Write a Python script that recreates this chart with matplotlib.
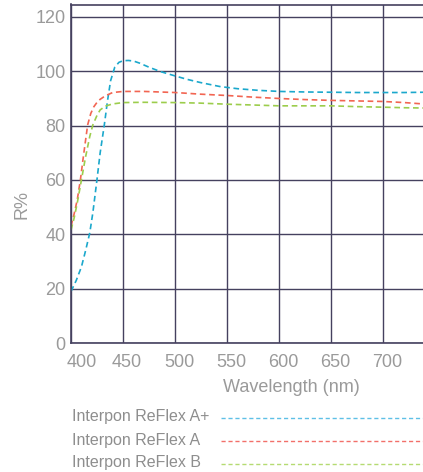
import matplotlib
matplotlib.use("Agg")
import matplotlib.pyplot as plt
import matplotlib.transforms as mtransforms
from matplotlib.lines import Line2D

plt.rcParams['font.family'] = ['Liberation Sans', 'DejaVu Sans']

# values
wl_aplus = [400, 405, 410, 414, 418, 421, 425, 428, 432, 435, 438, 442, 446, 450, 455, 460,
            466, 475, 486, 500, 512, 524, 543, 560, 580, 600, 625, 650, 675, 700, 720, 738]
r_aplus = [19.0, 23.0, 28.0, 34.0, 40.5, 48.0, 60.3, 70.0, 80.3, 89.0, 96.5, 101.5, 103.3, 103.9,
           104.0, 103.8, 103.0, 101.5, 99.9, 98.3, 97.0, 95.9, 94.4, 93.6, 93.0, 92.6, 92.4,
           92.3, 92.2, 92.2, 92.2, 92.3]

wl_a = [400, 403, 406, 409, 412, 416, 419, 422, 425, 428, 433, 440, 450, 470, 500, 524,
        550, 575, 600, 625, 650, 675, 700, 720, 738]
r_a = [43.0, 47.5, 52.7, 60.0, 69.0, 80.3, 84.5, 87.0, 88.6, 89.7, 91.0, 92.2, 92.6, 92.6,
       92.2, 91.6, 91.1, 90.5, 90.0, 89.6, 89.3, 89.1, 88.9, 88.5, 88.0]

wl_b = [400, 403, 406, 410, 414, 418, 421, 425, 428, 433, 440, 450, 470, 500, 524,
        550, 575, 600, 625, 650, 675, 700, 720, 738]
r_b = [41.6, 46.0, 51.5, 60.0, 68.5, 76.0, 80.3, 83.8, 85.8, 87.2, 88.0, 88.5, 88.6, 88.5,
       88.3, 87.9, 87.6, 87.3, 87.3, 87.3, 87.0, 86.8, 86.6, 86.5]

labels = ['Interpon ReFlex A+', 'Interpon ReFlex A', 'Interpon ReFlex B']
colors = ['#1ba8cc', '#f26552', '#9ccd4c']
legend_colors = ['#5ec0e6', '#f2706a', '#b5db72']

x_ticks = [400, 450, 500, 550, 600, 650, 700]
y_ticks = [0, 20, 40, 60, 80, 100, 120]

grid_col = '#45415f'
text_col = '#9a9a9a'

W, H = 423, 472
fig = plt.figure(figsize=(W/100, H/100), dpi=100)
ax = fig.add_axes([71/W, 1 - 343/H, 1 - 71/W, (343 - 4.5)/H])

dash = (0, (3.4, 2.2))
ax.plot(wl_aplus, r_aplus, color=colors[0], lw=1.2, linestyle=dash)
ax.plot(wl_a, r_a, color=colors[1], lw=1.2, linestyle=dash)
ax.plot(wl_b, r_b, color=colors[2], lw=1.2, linestyle=dash)

ax.set_xlim(400, 738)
ax.set_ylim(0, 124.6)
ax.set_xticks(x_ticks)
ax.set_yticks(y_ticks)
ax.grid(True, color=grid_col, lw=1.0)
ax.set_axisbelow(True)
for s in ['left', 'bottom', 'top']:
    ax.spines[s].set_color(grid_col)
    ax.spines[s].set_linewidth(1.2)
ax.spines['right'].set_visible(False)

ax.tick_params(length=0, labelsize=13, colors=text_col)
ax.tick_params(axis='y', pad=4)
ax.tick_params(axis='x', pad=8)

# nudge x tick labels to the right like the reference
for lbl, v in zip(ax.get_xticklabels(), x_ticks):
    dx = 11 if v == 400 else 4
    lbl.set_transform(lbl.get_transform() + mtransforms.ScaledTranslation(dx/100, 0, fig.dpi_scale_trans))

ax.set_xlabel('Wavelength (nm)', fontsize=13, color=text_col)
ax.xaxis.set_label_coords((291 - 71)/352, -0.105)
ax.set_ylabel('R%', fontsize=13, color=text_col)
ax.yaxis.set_label_coords(-0.116, 0.408)

# legend below the plot: text on the left, dashed sample on the right
row_y = [417, 440, 463]
for lab, c, yy in zip(labels, legend_colors, row_y):
    fig.text(72/W, 1 - yy/H, lab, fontsize=11.5, color='#8e8e8e', va='center', ha='left')
    fig.add_artist(Line2D([221/W, 1.0], [1 - (yy + 1)/H] * 2, transform=fig.transFigure,
                          color=c, lw=1.0, linestyle=(0, (3, 2))))

fig.savefig('out.png', dpi=100)
